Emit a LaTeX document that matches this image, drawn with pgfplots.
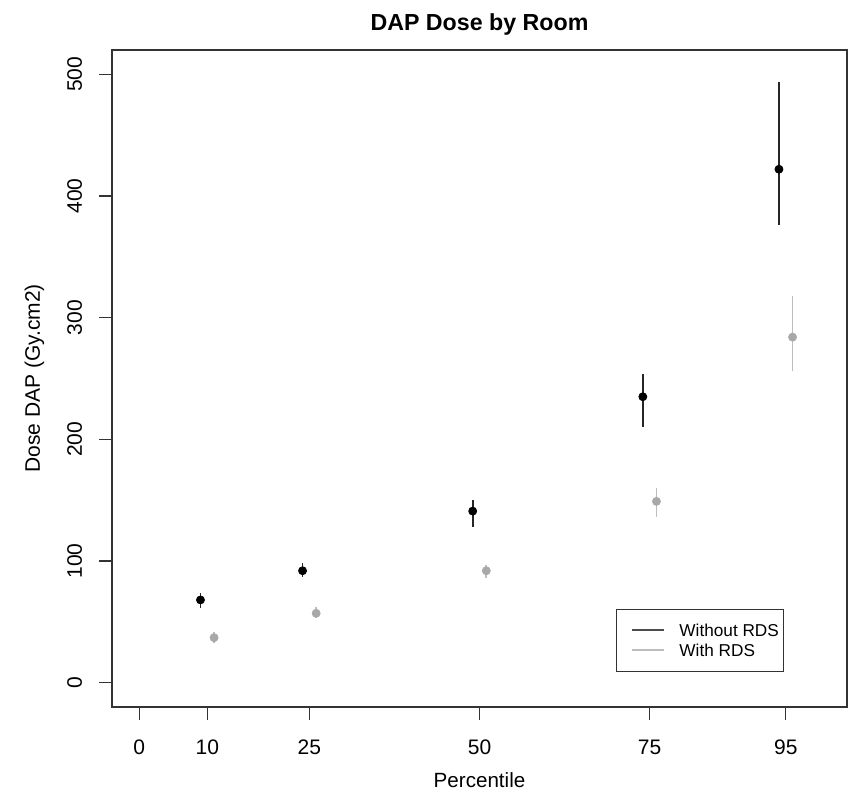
\documentclass[border=0pt]{standalone}
\usepackage{fontspec}
\setmainfont{Liberation Sans}
\usepackage{pgfplots}
\usepackage{pgfplotstable}
\pgfplotsset{compat=1.18}
\definecolor{ptgray}{HTML}{A8A8A8}
\definecolor{bargray}{HTML}{BDBDBD}
\definecolor{axgray}{HTML}{333333}

\pgfplotstableread{
x  y    ep  em
9  68   6   7
24 92   6   5
49 141  9   13
74 235  19  25
94 422  72  46
}\without
\pgfplotstableread{
x  y    ep   em
11 37   4.5  4
26 57   5    4
51 92   5    6
76 149  11   13
96 284  34   28
}\withrds

\begin{document}
\begin{tikzpicture}
\begin{axis}[
  at={(0,0)}, anchor=south west,
  scale only axis,
  width=367.5pt, height=328.5pt,
  xmin=-4, xmax=104, ymin=-20, ymax=520,
  axis line style={draw=axgray, line width=0.6pt},
  tick pos=left, tick align=outside,
  major tick length=6.5pt,
  tick style={draw=axgray, line width=0.6pt},
  xtick={0,10,25,50,75,95},
  ytick={0,100,200,300,400,500},
  /pgf/number format/assume math mode=true,
  tick label style={font=\fontsize{10.5}{12}\selectfont, inner sep=0pt},
  xticklabel style={anchor=base},
  xticklabel shift=17pt,
  yticklabel style={rotate=90, anchor=base},
  yticklabel shift=8.5pt,
  every axis x label/.style={at={([yshift=-40pt]axis description cs:0.5,0)}, anchor=base, font=\fontsize{10.3}{12}\selectfont},
  every axis y label/.style={at={([xshift=-36pt]axis description cs:0,0.5)}, rotate=90, anchor=base, font=\fontsize{10.5}{12}\selectfont},
  every axis title/.style={at={([yshift=10pt]axis description cs:0.5,1)}, anchor=base, font=\fontsize{11.6}{13}\selectfont\bfseries},
  title={DAP Dose by Room},
  xlabel={Percentile},
  ylabel={Dose DAP (Gy.cm2)},
  legend style={at={(0.6857,0.0533)}, anchor=south west, draw=axgray, line width=0.5pt,
    font=\fontsize{8.6}{10}\selectfont, inner xsep=2.5pt, inner ysep=7.5pt,
    row sep=4pt, column sep=7.5pt,
    nodes={inner sep=0pt, text height=6pt, text depth=0pt}},
  legend cell align=left,
  legend image code/.code={\path (0pt,0pt); \draw[#1] (5pt,0pt) -- (20.5pt,0pt);},
]
\addplot[forget plot, only marks, mark=*, mark size=2pt, mark options={fill=black, draw=black},
  error bars/.cd, y dir=both, y explicit, error mark=none,
  error bar style={line width=0.9pt, draw=black!85}]
  table[x=x, y=y, y error plus=ep, y error minus=em] {\without};
\addplot[forget plot, only marks, mark=*, mark size=2pt, mark options={fill=ptgray, draw=ptgray},
  error bars/.cd, y dir=both, y explicit, error mark=none,
  error bar style={line width=0.9pt, draw=bargray}]
  table[x=x, y=y, y error plus=ep, y error minus=em] {\withrds};
\addlegendimage{draw=black!70, line width=1pt}
\addlegendentry{Without RDS}
\addlegendimage{draw=bargray, line width=1pt}
\addlegendentry{With RDS}
\end{axis}
\pgfresetboundingbox
\useasboundingbox (-56pt,-42pt) rectangle (368.5pt,353.5pt);
\end{tikzpicture}
\end{document}
